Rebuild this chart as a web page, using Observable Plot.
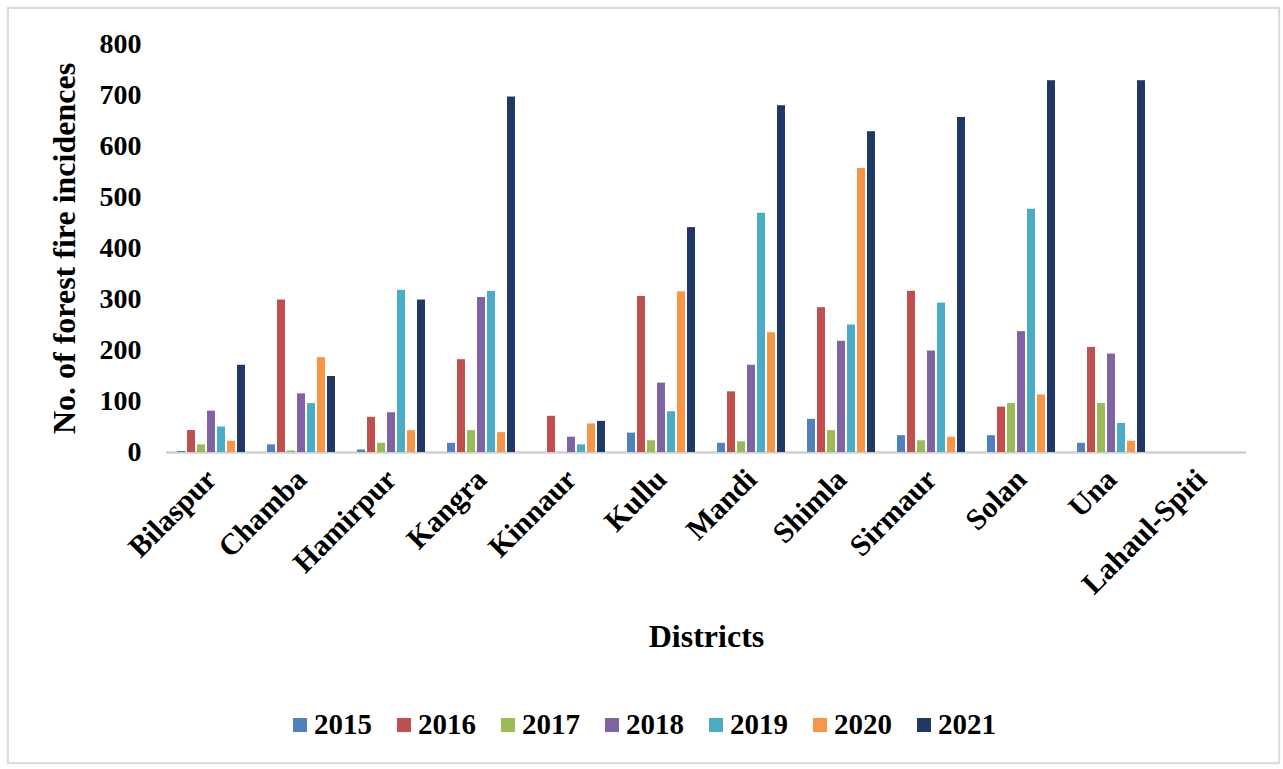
<!DOCTYPE html>
<html>
<head>
<meta charset="utf-8">
<script src="https://cdn.jsdelivr.net/npm/d3@7"></script>
<script src="https://cdn.jsdelivr.net/npm/@observablehq/plot@0.6"></script>
<style>
  html, body { margin: 0; padding: 0; background: #fff; }
  #frame { position: absolute; left: 7px; top: 7px; width: 1269px; height: 753px; border: 2px solid #dcdcdc; box-shadow: 0 0 3px rgba(0,0,0,0.08); }
  #chart { position: absolute; left: 0; top: 0; }
  #legend { position: absolute; left: 293px; top: 708px; }
  #chart svg [aria-label="y-axis label"] text { font-size: 32px; }
  #chart svg [aria-label="fx-axis label"] text { font-size: 32px; }
  #chart svg [aria-label="fx-axis tick label"] text { font-size: 30px; }
  .lg-swatches { font-family: "Liberation Serif", "Times New Roman", serif; font-weight: bold; font-size: 29px; color: #000; }
  .lg-swatch { margin-right: 25px !important; }
  .lg-swatch > svg { margin-right: 7px !important; }
</style>
</head>
<body>
<div id="frame"></div>
<div id="chart"></div>
<div id="legend"></div>
<script>
const districts = ["Bilaspur","Chamba","Hamirpur","Kangra","Kinnaur","Kullu","Mandi","Shimla","Sirmaur","Solan","Una","Lahaul-Spiti"];
const years = ["2015","2016","2017","2018","2019","2020","2021"];
const v2015 = [2, 15, 5, 18, 0, 38, 18, 65, 33, 33, 18, 0];
const v2016 = [43, 299, 69, 182, 71, 306, 119, 284, 316, 89, 206, 0];
const v2017 = [15, 3, 18, 43, 0, 23, 21, 43, 23, 96, 96, 0];
const v2018 = [81, 115, 78, 304, 30, 136, 171, 218, 199, 237, 193, 0];
const v2019 = [50, 96, 318, 316, 15, 80, 469, 250, 293, 477, 57, 0];
const v2020 = [22, 186, 43, 39, 56, 315, 235, 557, 30, 113, 22, 0];
const v2021 = [171, 149, 299, 697, 61, 441, 680, 629, 657, 729, 729, 0];
const yTicks = [0, 100, 200, 300, 400, 500, 600, 700, 800];
const colors = ["#4F81BD","#C0504D","#9BBB59","#8064A2","#4BACC6","#F79646","#1F3864"];

const series = {"2015": v2015, "2016": v2016, "2017": v2017, "2018": v2018, "2019": v2019, "2020": v2020, "2021": v2021};
const data = districts.flatMap((d, i) => years.map(y => ({district: d, year: y, value: series[y][i]})));

const chart = Plot.plot({
  width: 1283,
  height: 690,
  marginLeft: 165,
  marginRight: 36,
  marginTop: 44,
  marginBottom: 238,
  style: {fontFamily: "'Liberation Serif', 'Times New Roman', serif", fontSize: "28px", fontWeight: "bold", color: "#000", background: "transparent"},
  fx: {domain: districts, padding: 0},
  x: {domain: years, paddingInner: 0.25, paddingOuter: 0.84, axis: null},
  y: {domain: [0, 800]},
  color: {domain: years, range: colors},
  marks: [
    Plot.ruleY([0], {stroke: "#d0d0d0", strokeWidth: 2.5}),
    Plot.barY(data, {fx: "district", x: "year", y: "value", fill: "year"}),
    Plot.axisY({ticks: yTicks, tickSize: 0, tickPadding: 25, label: "No. of forest fire incidences", labelAnchor: "center", labelArrow: "none", labelOffset: 114}),
    Plot.axisFx({anchor: "bottom", tickSize: 0, tickRotate: -45, tickPadding: 22, label: "Districts", labelAnchor: "center", labelArrow: "none", labelOffset: 194})
  ]
});
document.getElementById("chart").appendChild(chart);

const legend = Plot.legend({color: {domain: years, range: colors}, legend: "swatches", swatchSize: 14, className: "lg"});
document.getElementById("legend").appendChild(legend);
</script>
</body>
</html>
